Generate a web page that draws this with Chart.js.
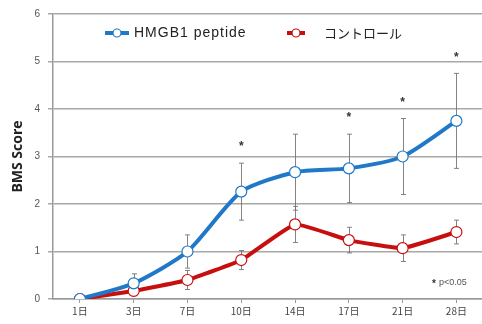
<!DOCTYPE html>
<html>
<head>
<meta charset="utf-8">
<script src="https://cdn.jsdelivr.net/npm/chart.js@4/dist/chart.umd.min.js"></script>
<style>
  html, body { margin: 0; padding: 0; background: #fff; overflow: hidden; }
  #wrap { width: 482px; height: 324px; overflow: hidden; position: relative; }
  canvas { display: block; }
</style>
</head>
<body>
<div id="wrap"><canvas id="c" width="490" height="324"></canvas></div>
<script>
// Days after treatment
const days = ['1日', '3日', '7日', '10日', '14日', '17日', '21日', '28日'];

// Mean BMS score and error (±) per group
const hmgb1Scores = [0, 0.33, 1.0, 2.26, 2.67, 2.75, 3.0, 3.75];
const hmgb1Errors = [0, 0.2, 0.35, 0.6, 0.8, 0.72, 0.8, 1.0];
const controlScores = [0, 0.17, 0.4, 0.82, 1.57, 1.24, 1.07, 1.41];
const controlErrors = [0, 0.1, 0.2, 0.2, 0.38, 0.27, 0.28, 0.25];

// Days with a significant difference (p<0.05)
const significantDays = ['10日', '17日', '21日', '28日'];

const yTicks = [0, 1, 2, 3, 4, 5, 6];

const BLUE = '#1f78c8';
const RED = '#c80f0f';

// Vertical error bars with small caps, drawn under the lines
const errorBarPlugin = {
  id: 'errorBars',
  beforeDatasetsDraw(chart) {
    const { ctx } = chart;
    const y = chart.scales.y;
    chart.data.datasets.forEach((ds, i) => {
      const meta = chart.getDatasetMeta(i);
      ctx.save();
      ctx.strokeStyle = 'rgba(110,110,110,0.85)';
      ctx.lineWidth = 1;
      meta.data.forEach((pt, j) => {
        const e = ds.errors[j];
        if (!e) return;
        const v = ds.data[j];
        const top = y.getPixelForValue(v + e);
        const bot = y.getPixelForValue(v - e);
        const x = Math.round(pt.x) + 0.5;
        ctx.beginPath();
        ctx.moveTo(x, top); ctx.lineTo(x, bot);
        ctx.moveTo(x - 2.5, top); ctx.lineTo(x + 2.5, top);
        ctx.moveTo(x - 2.5, bot); ctx.lineTo(x + 2.5, bot);
        ctx.stroke();
      });
      ctx.restore();
    });
  },
  afterDatasetsDraw(chart) {
    const { ctx } = chart;
    const x = chart.scales.x, y = chart.scales.y;
    ctx.save();
    ctx.fillStyle = '#333';
    ctx.font = 'bold 12px "Liberation Sans", Arial, sans-serif';
    ctx.textAlign = 'center';
    ctx.textBaseline = 'middle';
    significantDays.forEach(d => {
      const j = days.indexOf(d);
      const top = y.getPixelForValue(hmgb1Scores[j] + hmgb1Errors[j]);
      ctx.fillText('*', x.getPixelForValue(j), top - 16);
    });
    // significance note
    ctx.textAlign = 'left';
    ctx.font = 'bold 10px "Liberation Sans", Arial, sans-serif';
    ctx.fillText('*', 432, 284);
    ctx.font = '9px "Liberation Sans", Arial, sans-serif';
    ctx.fillStyle = '#555';
    ctx.fillText('p<0.05', 439, 283);
    ctx.restore();
  }
};

// Legend entries drawn inside the plot: line sample with an open marker
const legendPlugin = {
  id: 'insideLegend',
  afterDraw(chart) {
    const { ctx } = chart;
    const items = [
      { ds: 0, x0: 105, x1: 129, tx: 134, font: '14px "Liberation Sans", Arial, sans-serif', spacing: '1px' },
      { ds: 1, x0: 287, x1: 305, tx: 324, font: '13px "Noto Sans CJK JP", sans-serif', spacing: '0px' }
    ];
    const cy = 33;
    items.forEach(it => {
      const ds = chart.data.datasets[it.ds];
      ctx.save();
      ctx.strokeStyle = ds.borderColor;
      ctx.lineWidth = 4;
      ctx.beginPath();
      ctx.moveTo(it.x0, cy); ctx.lineTo(it.x1, cy);
      ctx.stroke();
      ctx.beginPath();
      ctx.arc((it.x0 + it.x1) / 2, cy, 4, 0, Math.PI * 2);
      ctx.fillStyle = '#fff';
      ctx.fill();
      ctx.lineWidth = 1.2;
      ctx.stroke();
      ctx.fillStyle = '#222';
      ctx.font = it.font;
      if ('letterSpacing' in ctx) ctx.letterSpacing = it.spacing;
      ctx.textBaseline = 'middle';
      ctx.fillText(ds.label, it.tx, cy);
      ctx.restore();
    });
  }
};

new Chart(document.getElementById('c'), {
  type: 'line',
  data: {
    labels: days,
    datasets: [
      {
        label: 'HMGB1 peptide',
        data: hmgb1Scores,
        errors: hmgb1Errors,
        borderColor: BLUE,
        borderWidth: 4,
        tension: 0.22,
        pointRadius: 5.5,
        pointBackgroundColor: '#fff',
        pointBorderColor: BLUE,
        pointBorderWidth: 1.2,
        order: 1
      },
      {
        label: 'コントロール',
        data: controlScores,
        errors: controlErrors,
        borderColor: RED,
        borderWidth: 4,
        tension: 0.12,
        pointRadius: 5.5,
        pointBackgroundColor: '#fff',
        pointBorderColor: RED,
        pointBorderWidth: 1.2,
        order: 2
      }
    ]
  },
  options: {
    responsive: false,
    animation: false,
    events: [],
    layout: { padding: { top: 13, right: 4, left: 0, bottom: 0 } },
    plugins: {
      legend: { display: false },
      tooltip: { enabled: false }
    },
    scales: {
      x: {
        offset: true,
        grid: { drawOnChartArea: false, drawTicks: true, tickLength: 4, offset: false, color: '#999', lineWidth: 1 },
        border: { display: true, color: '#999', width: 1.5 },
        ticks: { color: '#444', font: { family: '"Noto Sans CJK JP", sans-serif', size: 10 }, padding: 2, maxRotation: 0, autoSkip: false },
        afterFit(s) { s.height = 25; }
      },
      y: {
        min: 0,
        max: 6,
        afterBuildTicks(s) { s.ticks = yTicks.map(v => ({ value: v })); },
        grid: { color: '#a8a8a8', lineWidth: 1.5, tickLength: 5 },
        border: { display: true, color: '#999', width: 1.5 },
        ticks: { color: '#555', font: { family: '"Liberation Sans", Arial, sans-serif', size: 10 }, padding: 8 },
        title: {
          display: true,
          text: 'BMS Score',
          color: '#222',
          font: { family: '"Open Sans", sans-serif', size: 14, weight: 'bold' },
          padding: { top: 10, bottom: 0 }
        },
        afterFit(s) { s.width = 53; }
      }
    }
  },
  plugins: [errorBarPlugin, legendPlugin]
});
</script>
</body>
</html>
